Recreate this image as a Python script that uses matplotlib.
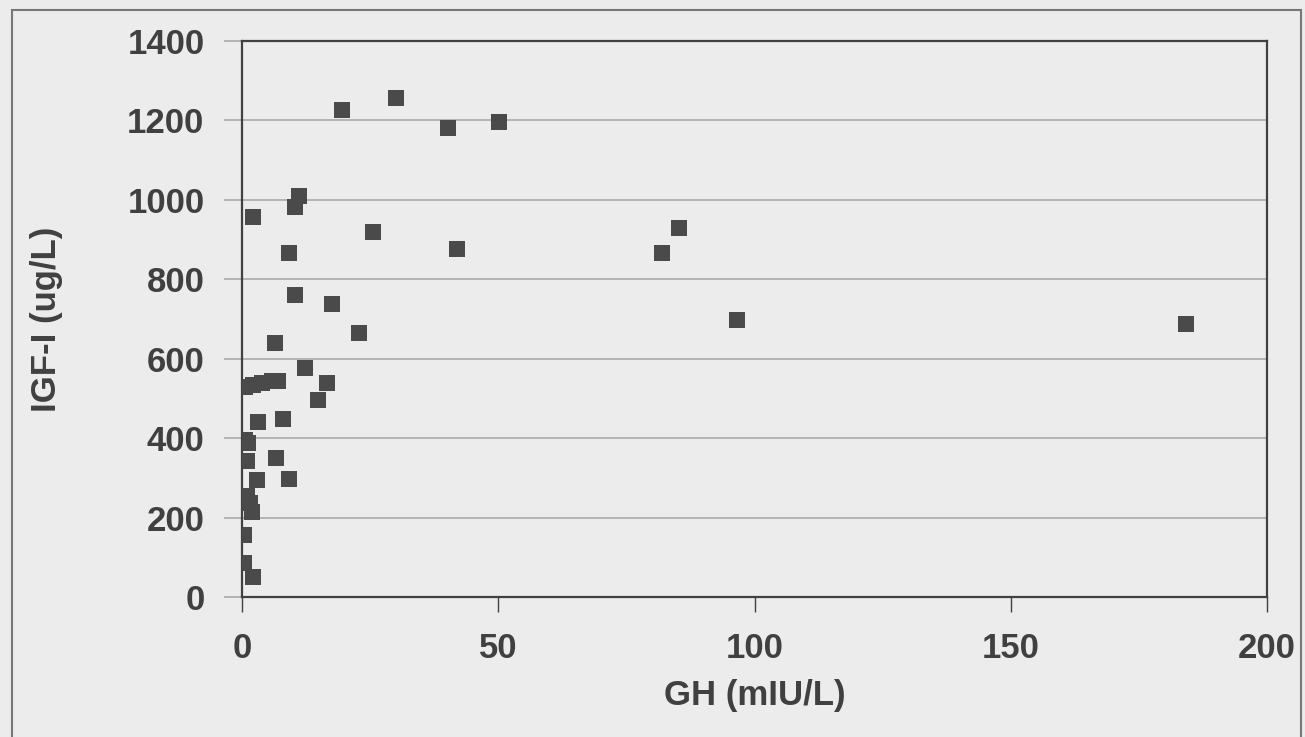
import matplotlib.pyplot as plt
from matplotlib.patches import Rectangle

# GH (mIU/L) vs IGF-I (ug/L)
gh = [19.5, 30.0, 40.2, 50.1, 11.1, 10.3, 2.2, 25.5, 41.9, 85.3, 82.0,
      9.2, 10.4, 17.5, 96.6, 184.2, 22.8, 6.5,
      12.3, 16.6, 14.8, 0.6, 2.1, 3.9, 5.9, 7.0,
      3.1, 8.0, 0.6, 1.2, 1.0, 6.6, 2.9, 9.2,
      1.0, 1.6, 2.0, 0.4, 0.4, 2.1]
igf = [1227, 1257, 1181, 1196, 1010, 982, 957, 919, 876, 929, 866,
       866, 760, 737, 697, 687, 665, 640,
       577, 539, 496, 529, 534, 539, 544, 544,
       441, 448, 395, 388, 343, 350, 295, 297,
       254, 237, 214, 156, 86, 50]

x_ticks = [0, 50, 100, 150, 200]
y_ticks = [0, 200, 400, 600, 800, 1000, 1200, 1400]

bg = '#ececec'
ink = '#404040'

plt.rcParams['font.family'] = ['Liberation Sans', 'DejaVu Sans']

fig = plt.figure(figsize=(13.05, 7.37), dpi=100, facecolor=bg)
ax = fig.add_axes([242/1305, 140/737, (1267-242)/1305, (597-41)/737])
ax.set_facecolor(bg)

ax.plot(gh, igf, 's', color='#4a4a4a', ms=11, mec='#4a4a4a', mew=0, zorder=3)

ax.set_xlim(0, 200)
ax.set_ylim(0, 1400)
ax.set_xticks(x_ticks)
ax.set_yticks(y_ticks)
ax.grid(axis='y', color='#a4a4a4', lw=1.1)
ax.set_axisbelow(True)

for s in ax.spines.values():
    s.set_color(ink)
    s.set_linewidth(1.6)

ax.tick_params(axis='y', direction='out', length=13, width=1.1, color='#a4a4a4',
               pad=14, labelsize=25, labelcolor=ink)
ax.tick_params(axis='x', direction='out', length=11, width=1.0, color=ink,
               pad=14, labelsize=25, labelcolor=ink)
for lab in ax.get_xticklabels() + ax.get_yticklabels():
    lab.set_fontweight('bold')

ax.set_xlabel('GH (mIU/L)', fontsize=25, fontweight='bold', color=ink, labelpad=10)
ax.set_ylabel('IGF-I (ug/L)', fontsize=25, fontweight='bold', color=ink, labelpad=46)

# outer frame of the scanned figure
fig.add_artist(Rectangle((12/1305, -0.05), (1301-12)/1305, 1.05 - 10/737,
                         transform=fig.transFigure, fill=False,
                         ec='#777777', lw=1.5))

fig.savefig('out.png', dpi=100, facecolor=bg)
